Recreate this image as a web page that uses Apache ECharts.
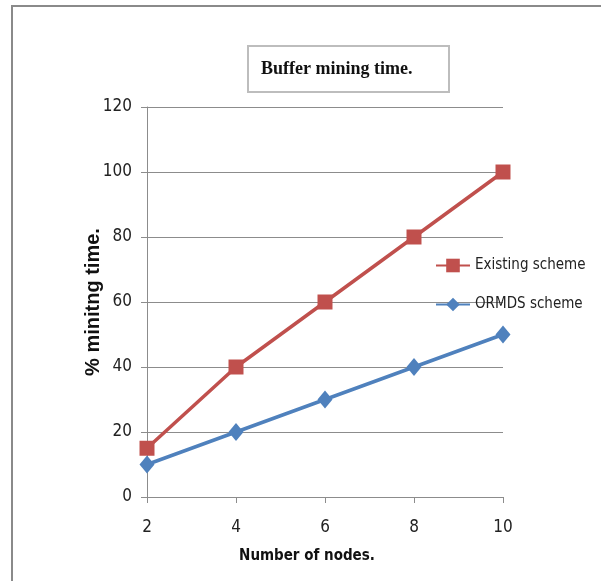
<!DOCTYPE html>
<html>
<head>
<meta charset="utf-8">
<script src="https://cdn.jsdelivr.net/npm/echarts@6/dist/echarts.min.js"></script>
<style>
  html, body { margin: 0; padding: 0; background: #fff; }
  #chart { width: 601px; height: 581px; }
</style>
</head>
<body>
<div id="chart"></div>
<script>
// Node counts along the x axis
const nodes = ['2', '4', '6', '8', '10'];
// Buffer mining time (%) for each scheme
const existingScheme = [15, 40, 60, 80, 100];
const ormdsScheme = [10, 20, 30, 40, 50];

const narrow = '"Liberation Sans Narrow", "DejaVu Sans Condensed", "Liberation Sans", sans-serif';
const gridGray = '#8c8c8c';

const chart = echarts.init(document.getElementById('chart'));
chart.setOption({
  backgroundColor: '#fff',
  animation: false,
  title: {
    text: 'Buffer mining time.',
    left: 248,
    top: 46,
    padding: [14, 37, 14, 13],
    borderColor: '#bdbdbd',
    borderWidth: 2,
    textStyle: {
      fontFamily: '"Liberation Serif", "DejaVu Serif", serif',
      fontWeight: 'bold',
      fontSize: 18,
      color: '#111'
    }
  },
  graphic: [{
    type: 'rect',
    shape: { x: 12, y: 6, width: 620, height: 600 },
    style: { fill: 'none', stroke: '#8a8a8a', lineWidth: 2 },
    silent: true,
    z: 0
  }],
  legend: {
    orient: 'vertical',
    left: 430,
    top: 253,
    itemGap: 24,
    itemWidth: 34,
    itemHeight: 17,
    itemTextGap: 3,
    textStyle: { fontFamily: narrow, fontSize: 15, color: '#222' },
    data: ['Existing scheme', 'ORMDS scheme']
  },
  grid: { left: 147, right: 98, top: 107, bottom: 84, containLabel: false },
  xAxis: {
    type: 'category',
    data: nodes,
    boundaryGap: false,
    name: 'Number of nodes.',
    nameLocation: 'middle',
    nameGap: 52,
    nameMoveOverlap: false,
    nameTextStyle: { fontFamily: narrow, fontWeight: 'bold', fontSize: 15, color: '#111', padding: [0, 36, 0, 0] },
    axisLine: { lineStyle: { color: gridGray, width: 1 } },
    axisTick: { show: true, length: 6, alignWithLabel: true, lineStyle: { color: gridGray } },
    axisLabel: { fontFamily: narrow, fontSize: 17, color: '#222', margin: 22 },
    splitLine: { show: false }
  },
  yAxis: {
    type: 'value',
    min: 0,
    max: 120,
    interval: 20,
    name: '% minitng time.',
    nameLocation: 'middle',
    nameGap: 44,
    nameMoveOverlap: false,
    nameRotate: 90,
    nameTextStyle: { fontFamily: '"Liberation Sans", Arial, sans-serif', fontWeight: 'bold', fontSize: 20, color: '#111' },
    axisLine: { show: true, lineStyle: { color: gridGray, width: 1 } },
    axisTick: { show: true, length: 6, lineStyle: { color: gridGray } },
    axisLabel: { fontFamily: narrow, fontSize: 17, color: '#222', margin: 15 },
    splitLine: { show: true, lineStyle: { color: gridGray, width: 1 } }
  },
  series: [
    {
      name: 'Existing scheme',
      type: 'line',
      data: existingScheme,
      symbol: 'rect',
      symbolSize: 15,
      color: '#C0504D',
      lineStyle: { width: 3.5, color: '#C0504D' },
      itemStyle: { color: '#C0504D' },
      z: 3
    },
    {
      name: 'ORMDS scheme',
      type: 'line',
      data: ormdsScheme,
      symbol: 'diamond',
      symbolSize: [15, 18],
      color: '#4F81BD',
      lineStyle: { width: 3.5, color: '#4F81BD' },
      itemStyle: { color: '#4F81BD' },
      z: 3
    }
  ]
});
</script>
</body>
</html>
